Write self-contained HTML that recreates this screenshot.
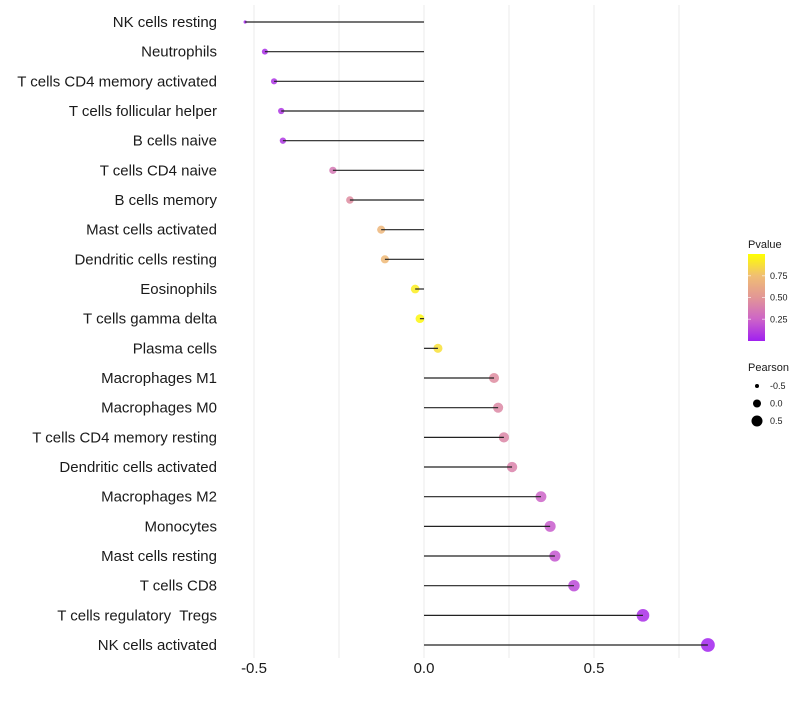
<!DOCTYPE html>
<html><head><meta charset="utf-8"><style>
body{margin:0;background:#fff;font-family:"Liberation Sans",sans-serif}
text{white-space:pre}
</style></head><body>
<svg id="chart" width="800" height="700" xmlns="http://www.w3.org/2000/svg" font-family="Liberation Sans, sans-serif"></svg>
<script>
const categories=["NK cells resting","Neutrophils","T cells CD4 memory activated","T cells follicular helper","B cells naive","T cells CD4 naive","B cells memory","Mast cells activated","Dendritic cells resting","Eosinophils","T cells gamma delta","Plasma cells","Macrophages M1","Macrophages M0","T cells CD4 memory resting","Dendritic cells activated","Macrophages M2","Monocytes","Mast cells resting","T cells CD8","T cells regulatory  Tregs","NK cells activated"];
const pearson=[-0.526,-0.468,-0.441,-0.42,-0.415,-0.268,-0.218,-0.126,-0.115,-0.026,-0.012,0.041,0.206,0.218,0.235,0.259,0.344,0.371,0.385,0.441,0.644,0.835];
const pvalue=[0.02,0.05,0.07,0.08,0.08,0.35,0.45,0.7,0.72,0.93,0.97,0.88,0.45,0.43,0.42,0.4,0.25,0.22,0.2,0.15,0.05,0.01];
const xTicks=[-0.5,0,0.5];
const xTickLabels=["-0.5","0.0","0.5"];
const gridVals=[-0.5,-0.25,0,0.25,0.5,0.75];
const legendP=[0.25,0.5,0.75];
const legendR=[-0.5,0,0.5];

const NS="http://www.w3.org/2000/svg";
const svg=document.getElementById('chart');
const X=v=>424+v*340;
const Y=i=>22+i*29.667;
function rad(v){if(v<-0.5)return 1.6;return 3+(v+0.47)*3.0;}
const stops=[[0,[160,32,240]],[0.25,[205,100,200]],[0.5,[226,150,150]],[0.75,[240,190,115]],[1,[255,255,0]]];
function col(p){for(let k=0;k<stops.length-1;k++){const[a,ca]=stops[k],[b,cb]=stops[k+1];if(p<=b){const t=(p-a)/(b-a);return 'rgb('+ca.map((c,j)=>Math.round(c+(cb[j]-c)*t)).join(',')+')';}}return 'rgb(255,255,0)';}
function mk(tag,attrs,parent){const e=document.createElementNS(NS,tag);for(const k in attrs)e.setAttribute(k,attrs[k]);(parent||svg).appendChild(e);return e;}

gridVals.forEach(v=>{const l=mk('line',{x1:X(v),x2:X(v),y1:5,y2:658,stroke:'#ebebeb','stroke-width':1});

});

categories.forEach((c,i)=>{
 const t=mk('text',{x:217,y:Y(i)+5,'text-anchor':'end','font-size':15,fill:'#1a1a1a'});t.textContent=c;
 
 
 const d=mk('circle',{cx:X(pearson[i]),cy:Y(i),r:rad(pearson[i]),fill:col(pvalue[i]),'fill-opacity':0.85});
 
 
 const s=mk('line',{x1:X(0),x2:X(pearson[i]),y1:Y(i),y2:Y(i),stroke:'#222','stroke-width':1.2});
 
 
});
xTicks.forEach((v,i)=>{const t=mk('text',{x:X(v),y:673,'text-anchor':'middle','font-size':15,fill:'#1a1a1a'});t.textContent=xTickLabels[i];

});

const t1=mk('text',{x:748,y:248,'font-size':11,fill:'#1a1a1a'});t1.textContent='Pvalue';


const defs=mk('defs',{});const g=mk('linearGradient',{id:'pg',x1:0,y1:1,x2:0,y2:0},defs);
stops.forEach(s=>mk('stop',{offset:s[0],'stop-color':col(s[0])},g));
const cb=mk('rect',{x:748,y:254,width:17,height:87,fill:'url(#pg)'});


const PY=p=>341-p*87;
legendP.forEach(p=>{mk('line',{x1:748,x2:751,y1:PY(p),y2:PY(p),stroke:'#fff','stroke-opacity':0.6});mk('line',{x1:762,x2:765,y1:PY(p),y2:PY(p),stroke:'#fff','stroke-opacity':0.6});
 const t=mk('text',{x:770,y:PY(p)+3,'font-size':9,fill:'#1a1a1a'});t.textContent=p.toFixed(2);
 
 });
const t2=mk('text',{x:748,y:371,'font-size':11,fill:'#1a1a1a'});t2.textContent='Pearson';


const legR=[2,4,5.5];
legendR.forEach((v,i)=>{const cy=386+i*17.5;const c=mk('circle',{cx:757,cy:cy,r:legR[i],fill:'#000'});
 
 
 const t=mk('text',{x:770,y:cy+3,'font-size':9,fill:'#1a1a1a'});t.textContent=v.toFixed(1);
 
 });
</script>
</body></html>
